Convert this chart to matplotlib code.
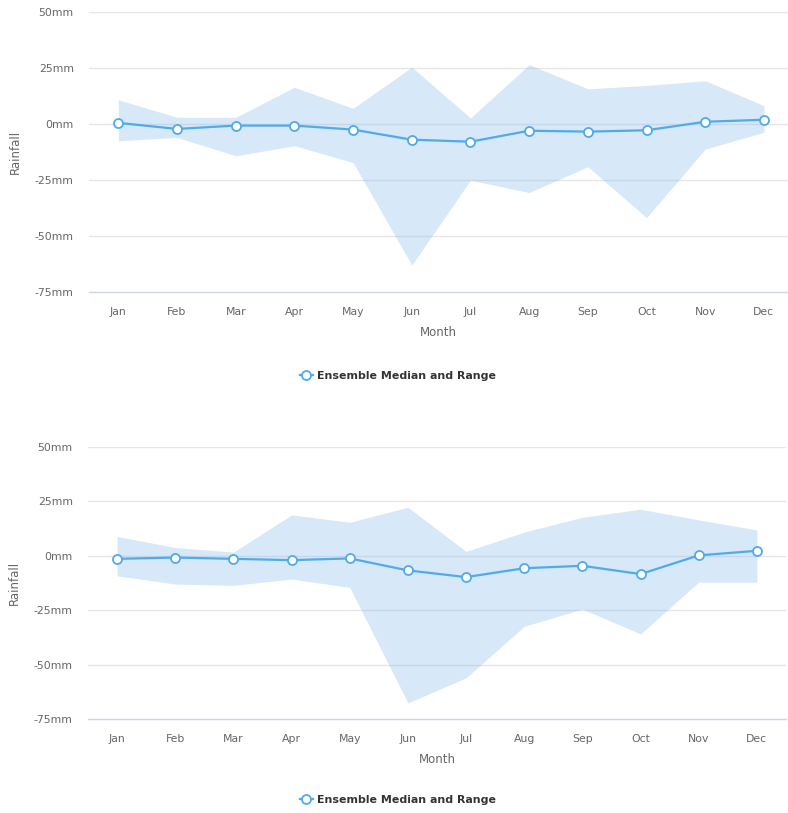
"""Ensemble median and range of monthly rainfall change, two panels."""

import matplotlib
matplotlib.use('Agg')
import matplotlib.pyplot as plt
from matplotlib.lines import Line2D

months = ['Jan', 'Feb', 'Mar', 'Apr', 'May', 'Jun', 'Jul', 'Aug', 'Sep', 'Oct', 'Nov', 'Dec']

# top panel
median_a = [0.5, -2.2, -0.7, -0.7, -2.5, -7.0, -7.9, -3.0, -3.4, -2.8, 1.0, 1.9]
upper_a = [10.8, 3.0, 3.0, 16.4, 7.0, 25.4, 2.7, 26.5, 15.7, 17.2, 19.3, 8.2]
lower_a = [-7.5, -6.0, -14.2, -9.7, -17.2, -63.0, -25.1, -30.6, -19.1, -41.8, -11.2, -3.7]

# bottom panel
median_b = [-1.4, -0.8, -1.4, -2.0, -1.2, -6.7, -9.8, -5.7, -4.6, -8.4, 0.2, 2.3]
upper_b = [8.9, 3.8, 1.7, 18.8, 15.4, 22.3, 2.0, 10.9, 17.7, 21.4, 16.5, 11.9]
lower_b = [-9.2, -13.0, -13.6, -10.7, -14.5, -67.6, -56.1, -32.4, -24.5, -35.9, -12.1, -12.1]

yticks = [-75, -50, -25, 0, 25, 50]

LINE = '#4fabea'
FILL = '#7cb5ec'
GRID = '#e6e6e6'
TEXT = '#666666'

plt.rcParams['font.family'] = ['DejaVu Sans']

W, H = 788, 813
fig = plt.figure(figsize=(W / 100, H / 100), dpi=100)


def panel(rect, xmax, median, upper, lower, legend_y):
    ax = fig.add_axes(rect)
    x = range(len(months))
    ax.fill_between(x, lower, upper, color=FILL, alpha=0.3, lw=0, zorder=2)
    ax.plot(x, median, color=LINE, lw=1.6, marker='o', ms=6.5, mfc='white',
            mec=LINE, mew=1.3, zorder=3)
    ax.set_xlim(-0.5, xmax)
    ax.set_ylim(-75, 50)
    ax.set_yticks(yticks)
    ax.set_yticklabels([f'{v}mm' for v in yticks])
    ax.set_xticks(list(x))
    ax.set_xticklabels(months)
    ax.tick_params(length=0, labelsize=7.8, colors=TEXT)
    ax.tick_params(axis='x', pad=11)
    ax.tick_params(axis='y', pad=11)
    for v in yticks[1:]:
        ax.axhline(v, color=GRID, lw=1, zorder=1)
    for s in ['top', 'right', 'left']:
        ax.spines[s].set_visible(False)
    ax.spines['bottom'].set_color('#ccd6eb')
    ax.spines['bottom'].set_linewidth(1)
    ax.set_xlabel('Month', fontsize=8.5, color=TEXT, labelpad=6)
    ax.set_ylabel('Rainfall', fontsize=8.5, color=TEXT, labelpad=9)
    handle = Line2D([], [], color=LINE, lw=1.6, marker='o', ms=6.5, mfc='white',
                    mec=LINE, mew=1.3)
    fig.legend([handle], ['Ensemble Median and Range'], loc='center',
               bbox_to_anchor=(0.505, legend_y), frameon=False, handlelength=1.2,
               handletextpad=0.4, prop={'weight': 'bold', 'size': 7.9},
               labelcolor='#333333')
    return ax


def rect(left, right, top, bottom):
    return [left / W, 1 - bottom / H, (right - left) / W, (bottom - top) / H]


panel(rect(89, 788, 12, 292), 11.41, median_a, upper_a, lower_a, 1 - 376 / H)
panel(rect(88, 786, 447, 719), 11.5, median_b, upper_b, lower_b, 1 - 800 / H)

fig.savefig('out.png', dpi=100)
